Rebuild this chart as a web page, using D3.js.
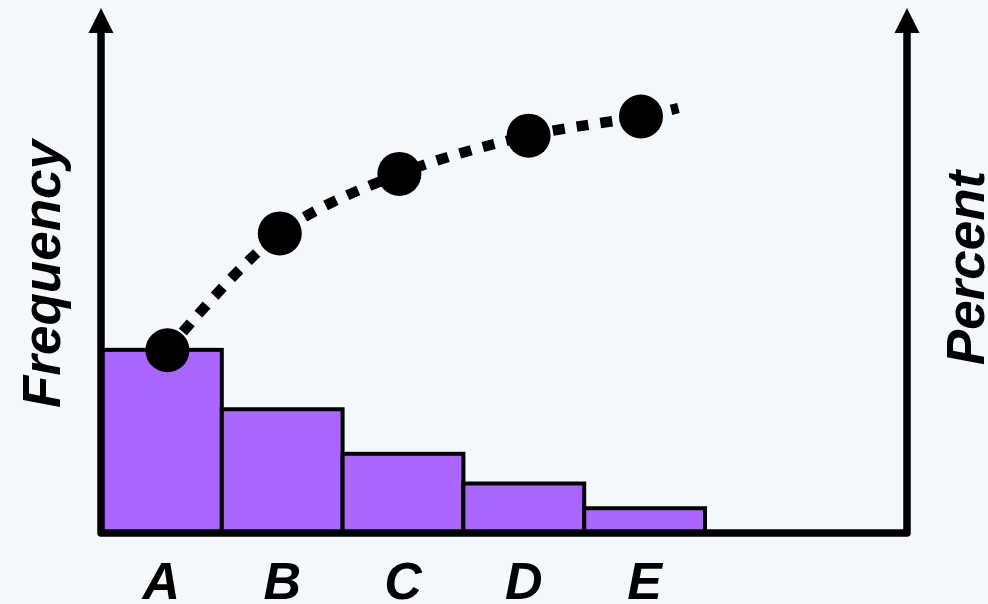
<!DOCTYPE html>
<html>
<head>
<meta charset="utf-8">
<script src="https://cdn.jsdelivr.net/npm/d3@7"></script>
<style>
  html, body { margin: 0; padding: 0; background: #f3f8fd; }
  svg { display: block; }
</style>
</head>
<body>
<script>
// ---- data ----
const categories = ["A", "B", "C", "D", "E"];
const frequency = [37, 25, 16, 10, 5];
// cumulative percent line (schematic), positions in category units
const percentValues = [43, 70.5, 84.5, 93.5, 98, 100];
const percentPos = [0.55, 1.48, 2.47, 3.54, 4.47, 4.78];
const axisTitles = { left: "Frequency", right: "Percent" };

(function () {
const W = 988, H = 604;
const pLeft = 101, pRight = 907, pBottom = 533, pTop = 33;

const svg = d3.select("body").append("svg").attr("width", W).attr("height", H);
svg.append("rect").attr("width", W).attr("height", H).attr("fill", "#f3f8fd");

const x = d3.scaleBand().domain(categories).range([pLeft, 705]).padding(0);
const xLin = d3.scaleLinear().domain([0, categories.length]).range([pLeft, 705]);
const yFreq = d3.scaleLinear().domain([0, 100]).range([pBottom, 38]);
const yPct = d3.scaleLinear().domain([0, 100]).range([pBottom, 108]);

// bars
svg.append("g").selectAll("rect").data(categories).join("rect")
  .attr("x", d => x(d))
  .attr("y", (d, i) => yFreq(frequency[i]))
  .attr("width", x.bandwidth())
  .attr("height", (d, i) => pBottom - yFreq(frequency[i]))
  .attr("fill", "#ab66ff")
  .attr("stroke", "#000")
  .attr("stroke-width", 4);

// axes frame
svg.append("path")
  .attr("d", `M${pLeft},${pTop} V${pBottom} H${pRight} V${pTop}`)
  .attr("fill", "none").attr("stroke", "#000")
  .attr("stroke-width", 7.5).attr("stroke-linejoin", "round");

// arrow heads
[pLeft, pRight].forEach(ax => {
  svg.append("path")
    .attr("d", `M${ax},8 L${ax + 12.5},33 L${ax - 12.5},33 Z`)
    .attr("fill", "#000");
});

// cumulative line
const pts = percentValues.map((v, i) => [xLin(percentPos[i]), yPct(v)]);
const line = d3.line().curve(d3.curveCatmullRom.alpha(0.5));
svg.append("path")
  .attr("d", line(pts))
  .attr("fill", "none").attr("stroke", "#000")
  .attr("stroke-width", 10.5).attr("stroke-dasharray", "12,12");

svg.append("g").selectAll("circle").data(pts.slice(0, categories.length)).join("circle")
  .attr("cx", d => d[0]).attr("cy", d => d[1]).attr("r", 22)
  .attr("fill", "#000");

// category labels
const font = "'Liberation Sans', Arial, sans-serif";
svg.append("g").selectAll("text").data(categories).join("text")
  .attr("x", d => x(d) + x.bandwidth() / 2)
  .attr("y", 599)
  .attr("text-anchor", "middle")
  .attr("font-family", font).attr("font-weight", "bold").attr("font-style", "italic")
  .attr("font-size", 52).attr("fill", "#000")
  .text(d => d);

// axis titles
svg.append("text")
  .attr("transform", "translate(60,274) rotate(-90)")
  .attr("text-anchor", "middle")
  .attr("font-family", font).attr("font-weight", "bold").attr("font-style", "italic")
  .attr("font-size", 53).attr("fill", "#000")
  .text(axisTitles.left);

svg.append("text")
  .attr("transform", "translate(984,268) rotate(-90)")
  .attr("text-anchor", "middle")
  .attr("font-family", font).attr("font-weight", "bold").attr("font-style", "italic")
  .attr("font-size", 53).attr("fill", "#000")
  .text(axisTitles.right);
})();
</script>
</body>
</html>
